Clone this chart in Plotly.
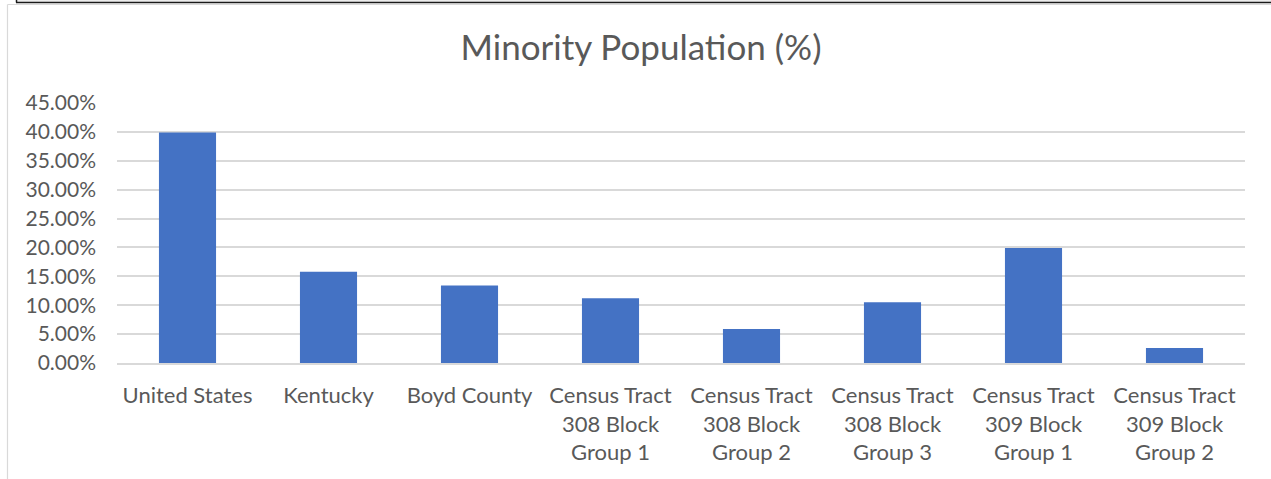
import plotly.graph_objects as go

categories = [
    "United States",
    "Kentucky",
    "Boyd County",
    "Census Tract<br>308 Block<br>Group 1",
    "Census Tract<br>308 Block<br>Group 2",
    "Census Tract<br>308 Block<br>Group 3",
    "Census Tract<br>309 Block<br>Group 1",
    "Census Tract<br>309 Block<br>Group 2",
]
minority_pct = [0.399, 0.158, 0.134, 0.112, 0.059, 0.105, 0.199, 0.026]
tick_values = [0, 0.05, 0.10, 0.15, 0.20, 0.25, 0.30, 0.35, 0.40, 0.45]
tick_labels = ["0.00%", "5.00%", "10.00%", "15.00%", "20.00%", "25.00%",
               "30.00%", "35.00%", "40.00%", "45.00%"]

W, H = 1271, 479
L, R, T, B = 117, 26, 103, 116
pw, ph = W - L - R, H - T - B

def px(x):
    return (x - L) / pw

def py(y):
    return 1 - (y - T) / ph

TEXT = "#595959"
FONT = "Lato"

fig = go.Figure(go.Bar(
    x=categories,
    y=minority_pct,
    marker=dict(color="#4472C4", line=dict(width=0)),
    width=0.405,
    hoverinfo="x+y",
))

shapes = [
    # light band above the top black rule
    dict(type="rect", xref="paper", yref="paper", x0=px(16), x1=px(W), y0=py(0), y1=py(2),
         fillcolor="#ececec", line=dict(width=0), layer="above"),
    # black top rule
    dict(type="line", xref="paper", yref="paper", x0=px(16), x1=px(W), y0=py(2.5), y1=py(2.5),
         line=dict(color="#1a1a1a", width=1.5), layer="above"),
    dict(type="line", xref="paper", yref="paper", x0=px(16.5), x1=px(16.5), y0=py(0), y1=py(2.5),
         line=dict(color="#1a1a1a", width=1.5), layer="above"),
    # light gray chart frame
    dict(type="line", xref="paper", yref="paper", x0=px(7.5), x1=px(W), y0=py(4.5), y1=py(4.5),
         line=dict(color="#d9d9d9", width=1.2), layer="above"),
    dict(type="line", xref="paper", yref="paper", x0=px(7.5), x1=px(7.5), y0=py(4.5), y1=py(H),
         line=dict(color="#d9d9d9", width=1.2), layer="above"),
]

fig.update_layout(
    width=W, height=H,
    margin=dict(l=L, r=R, t=T, b=B, autoexpand=False),
    paper_bgcolor="white",
    plot_bgcolor="white",
    showlegend=False,
    title=dict(text="Minority Population (%)", x=641 / W, xref="container", xanchor="center",
               y=1 - 48 / H, yref="container", yanchor="middle",
               font=dict(family=FONT, size=35, color=TEXT)),
    xaxis=dict(
        tickfont=dict(family=FONT, size=22, color=TEXT),
        showgrid=False, showline=True, linecolor="#d9d9d9", linewidth=1.5,
        ticks="", ticklabelstandoff=12,
    ),
    yaxis=dict(
        range=[0, 0.45], tickvals=tick_values, ticktext=tick_labels,
        tickfont=dict(family=FONT, size=21, color=TEXT),
        showgrid=True, gridcolor="#d9d9d9", gridwidth=1.5,
        zeroline=False, showline=False, ticks="", ticklabelstandoff=20,
    ),
    shapes=shapes,
)

fig.write_html(
    "out.html",
    config={"displayModeBar": False},
    post_script="document.body.style.margin='0';document.body.style.overflow='hidden';",
)
